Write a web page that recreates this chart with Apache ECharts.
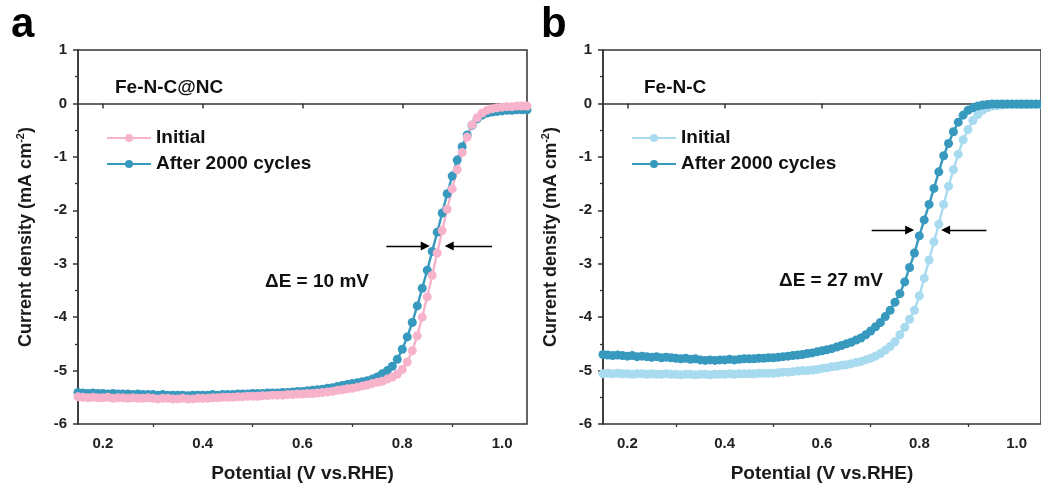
<!DOCTYPE html>
<html>
<head>
<meta charset="utf-8">
<script src="https://cdn.jsdelivr.net/npm/echarts@6/dist/echarts.min.js"></script>
<style>
html,body{margin:0;padding:0;background:#fff;}
#chart{width:1041px;height:488px;}
</style>
</head>
<body>
<div id="chart"></div>
<script>
// Potential (V vs. RHE), shared by all curves
const potential = [
0.15,0.16,0.17,0.18,0.19,0.20,0.21,0.22,0.23,0.24,
0.25,0.26,0.27,0.28,0.29,0.30,0.31,0.32,0.33,0.34,
0.35,0.36,0.37,0.38,0.39,0.40,0.41,0.42,0.43,0.44,
0.45,0.46,0.47,0.48,0.49,0.50,0.51,0.52,0.53,0.54,
0.55,0.56,0.57,0.58,0.59,0.60,0.61,0.62,0.63,0.64,
0.65,0.66,0.67,0.68,0.69,0.70,0.71,0.72,0.73,0.74,
0.75,0.76,0.77,0.78,0.79,0.80,0.81,0.82,0.83,0.84,
0.85,0.86,0.87,0.88,0.89,0.90,0.91,0.92,0.93,0.94,
0.95,0.96,0.97,0.98,0.99,1.00,1.01,1.02,1.03,1.04,
1.05];

// Panel a: Fe-N-C@NC
const aInitial = [
-5.49,-5.50,-5.51,-5.50,-5.51,-5.51,-5.50,-5.52,-5.51,-5.51,
-5.52,-5.51,-5.52,-5.52,-5.51,-5.52,-5.53,-5.52,-5.52,-5.53,
-5.53,-5.52,-5.53,-5.53,-5.52,-5.52,-5.52,-5.51,-5.51,-5.50,
-5.50,-5.50,-5.49,-5.49,-5.48,-5.48,-5.48,-5.47,-5.47,-5.46,
-5.46,-5.46,-5.45,-5.45,-5.44,-5.44,-5.43,-5.43,-5.42,-5.41,
-5.40,-5.39,-5.37,-5.36,-5.34,-5.33,-5.31,-5.29,-5.27,-5.24,
-5.22,-5.20,-5.16,-5.12,-5.07,-4.98,-4.84,-4.63,-4.35,-4.00,
-3.62,-3.22,-2.80,-2.38,-1.98,-1.60,-1.24,-0.92,-0.63,-0.40,
-0.27,-0.18,-0.13,-0.10,-0.08,-0.07,-0.06,-0.06,-0.05,-0.05,
-0.05];
const aAfter = [
-5.41,-5.42,-5.43,-5.42,-5.43,-5.43,-5.44,-5.43,-5.44,-5.44,
-5.44,-5.45,-5.44,-5.45,-5.45,-5.45,-5.46,-5.45,-5.46,-5.46,
-5.46,-5.46,-5.47,-5.46,-5.46,-5.46,-5.46,-5.45,-5.46,-5.45,
-5.45,-5.45,-5.44,-5.44,-5.44,-5.43,-5.43,-5.43,-5.42,-5.42,
-5.42,-5.41,-5.41,-5.40,-5.39,-5.39,-5.38,-5.37,-5.36,-5.35,
-5.33,-5.32,-5.30,-5.28,-5.26,-5.24,-5.23,-5.21,-5.19,-5.16,
-5.12,-5.06,-5.00,-4.92,-4.79,-4.60,-4.37,-4.10,-3.79,-3.46,
-3.12,-2.77,-2.41,-2.05,-1.69,-1.36,-1.06,-0.81,-0.59,-0.41,
-0.29,-0.22,-0.18,-0.16,-0.15,-0.14,-0.13,-0.13,-0.12,-0.12,
-0.12];

// Panel b: Fe-N-C
const bInitial = [
-5.06,-5.05,-5.06,-5.05,-5.06,-5.06,-5.07,-5.06,-5.06,-5.07,
-5.06,-5.07,-5.07,-5.06,-5.07,-5.07,-5.08,-5.07,-5.07,-5.08,
-5.07,-5.07,-5.08,-5.07,-5.07,-5.07,-5.06,-5.07,-5.06,-5.06,
-5.06,-5.06,-5.05,-5.05,-5.05,-5.05,-5.04,-5.03,-5.03,-5.02,
-5.01,-5.00,-5.00,-4.99,-4.98,-4.96,-4.95,-4.93,-4.92,-4.90,
-4.89,-4.87,-4.85,-4.83,-4.80,-4.77,-4.73,-4.68,-4.62,-4.55,
-4.46,-4.33,-4.19,-4.04,-3.87,-3.60,-3.27,-2.93,-2.59,-2.26,
-1.89,-1.55,-1.24,-0.95,-0.68,-0.49,-0.32,-0.21,-0.13,-0.08,
-0.05,-0.04,-0.03,-0.02,-0.02,-0.02,-0.02,-0.02,-0.02,-0.02,
-0.02];
const bAfter = [
-4.70,-4.71,-4.72,-4.71,-4.72,-4.73,-4.72,-4.74,-4.73,-4.74,
-4.75,-4.74,-4.76,-4.75,-4.76,-4.77,-4.78,-4.77,-4.79,-4.78,
-4.80,-4.81,-4.80,-4.81,-4.80,-4.80,-4.79,-4.80,-4.79,-4.78,
-4.78,-4.78,-4.77,-4.77,-4.76,-4.76,-4.75,-4.74,-4.73,-4.72,
-4.71,-4.70,-4.68,-4.67,-4.65,-4.63,-4.61,-4.59,-4.56,-4.53,
-4.50,-4.47,-4.43,-4.39,-4.33,-4.26,-4.18,-4.10,-3.99,-3.87,
-3.72,-3.56,-3.34,-3.07,-2.80,-2.48,-2.18,-1.89,-1.59,-1.28,
-0.98,-0.75,-0.53,-0.35,-0.22,-0.13,-0.08,-0.05,-0.03,-0.02,
-0.01,-0.01,-0.01,-0.01,-0.01,-0.01,-0.01,-0.01,-0.01,-0.01,
-0.01];

// Tick values
const xMajorTicks = [0.2, 0.4, 0.6, 0.8, 1.0];
const xMinorTicks = [0.3, 0.5, 0.7, 0.9];
const yTickLabels = ['-6','-5','-4','-3','-2','-1','0','1'];

// Arrow annotations (data units): [xStart, xEnd, y]
const arrowsA = [[0.768, 0.846, -2.67], [0.980, 0.894, -2.67]];
const arrowsB = [[0.702, 0.780, -2.37], [0.938, 0.854, -2.37]];

const FONT = '"Liberation Sans", Arial, Helvetica, sans-serif';
const AX = '#333';
const C_PINK = '#F7B3CB', C_TEAL = '#3799BE', C_LIGHT = '#A8DBEF';

const chart = echarts.init(document.getElementById('chart'), null, {renderer: 'canvas'});

function zip(ys) { return potential.map((x, i) => [x, ys[i]]); }

function xAxes(gi) {
  return [{
    type: 'value', gridIndex: gi, min: 0.15, max: 1.05, position: 'bottom',
    axisLine: {show: true, lineStyle: {color: AX, width: 1.5}},
    axisTick: {show: true, customValues: xMajorTicks, length: 5, lineStyle: {color: AX, width: 1.5}},
    axisLabel: {customValues: xMajorTicks, formatter: v => Number(v).toFixed(1), fontSize: 15, fontWeight: 'bold', color: '#222', margin: 12, fontFamily: FONT},
    splitLine: {show: false},
    name: 'Potential (V vs.RHE)', nameLocation: 'middle', nameGap: 40,
    nameTextStyle: {fontSize: 19, fontWeight: 'bold', color: '#1a1a1a', fontFamily: FONT}
  }, {
    type: 'value', gridIndex: gi, min: 0.15, max: 1.05, position: 'bottom',
    axisLine: {show: false},
    axisTick: {show: true, customValues: xMinorTicks, length: 3, lineStyle: {color: AX, width: 1.3}},
    axisLabel: {show: false},
    splitLine: {show: false}
  }];
}

function yAxis(gi) {
  return {
    type: 'value', gridIndex: gi, min: -6, max: 1, interval: 1,
    axisLine: {show: true, lineStyle: {color: AX, width: 1.5}},
    axisTick: {show: true, length: 5, lineStyle: {color: AX, width: 1.5}},
    minorTick: {show: true, splitNumber: 2, length: 3, lineStyle: {color: AX, width: 1.3}},
    axisLabel: {fontSize: 15, fontWeight: 'bold', color: '#222', margin: 11, fontFamily: FONT,
      formatter: v => yTickLabels[Math.round(v) + 6]},
    splitLine: {show: false}, minorSplitLine: {show: false},
    name: '{t|Current density (mA cm}{s|-2}{t|)}', nameLocation: 'middle', nameGap: 41,
    nameTextStyle: {
      fontFamily: FONT, color: '#1a1a1a',
      rich: {
        t: {fontSize: 18, fontWeight: 'bold', lineHeight: 22, color: '#1a1a1a', fontFamily: FONT},
        s: {fontSize: 11, fontWeight: 'bold', lineHeight: 11, verticalAlign: 'top', color: '#1a1a1a', fontFamily: FONT}
      }
    }
  };
}

function arrowLines(arrs) {
  return {
    silent: true, symbol: ['none', 'triangle'], symbolSize: 9, animation: false,
    lineStyle: {color: '#000', width: 1.3, type: 'solid'},
    itemStyle: {color: '#000'},
    label: {show: false},
    emphasis: {disabled: true},
    data: arrs.map(a => [{coord: [a[0], a[2]]}, {coord: [a[1], a[2]]}])
  };
}

function lineSeries(name, ys, color, xi, yi, extra) {
  return Object.assign({
    type: 'line', name: name, data: zip(ys), xAxisIndex: xi, yAxisIndex: yi,
    symbol: 'circle', symbolSize: 9, showSymbol: true, showAllSymbol: true,
    lineStyle: {color: color, width: 2.4}, itemStyle: {color: color},
    animation: false, silent: true
  }, extra || {});
}

const legendText = {fontSize: 19, fontWeight: 'bold', color: '#111', fontFamily: FONT, lineHeight: 20};

const option = {
  backgroundColor: '#fff',
  animation: false,
  grid: [
    {left: 78, top: 50, width: 449, height: 374, show: true, borderColor: AX, borderWidth: 1.5, backgroundColor: 'transparent'},
    {left: 603, top: 50, width: 450, height: 374, show: true, borderColor: AX, borderWidth: 1.5, backgroundColor: 'transparent'}
  ],
  xAxis: [].concat(xAxes(0), xAxes(1)),
  yAxis: [yAxis(0), yAxis(1)],
  legend: [
    {data: ['Initial', 'After 2000 cycles'], orient: 'vertical', left: 106, top: 128, padding: 0, itemWidth: 44, itemHeight: 10, itemGap: 6, textStyle: legendText, selectedMode: false},
    {data: ['Initial ', 'After 2000 cycles '], orient: 'vertical', left: 631, top: 128, padding: 0, itemWidth: 44, itemHeight: 10, itemGap: 6, textStyle: legendText, selectedMode: false}
  ],
  series: [
    lineSeries('After 2000 cycles', aAfter, C_TEAL, 0, 0),
    lineSeries('Initial', aInitial, C_PINK, 0, 0, {markLine: arrowLines(arrowsA)}),
    lineSeries('Initial ', bInitial, C_LIGHT, 2, 1),
    lineSeries('After 2000 cycles ', bAfter, C_TEAL, 2, 1, {markLine: arrowLines(arrowsB)})
  ],
  graphic: [
    {type: 'text', left: 11, top: 4, style: {text: 'a', font: 'bold 42px ' + FONT, fill: '#000'}},
    {type: 'text', left: 541, top: 4, style: {text: 'b', font: 'bold 42px ' + FONT, fill: '#000'}},
    {type: 'text', left: 115, top: 78, style: {text: 'Fe-N-C@NC', font: 'bold 19px ' + FONT, fill: '#111'}},
    {type: 'text', left: 644, top: 78, style: {text: 'Fe-N-C', font: 'bold 19px ' + FONT, fill: '#111'}},
    {type: 'text', left: 265, top: 272, style: {text: 'ΔE = 10 mV', font: 'bold 19px ' + FONT, fill: '#111'}},
    {type: 'text', left: 779, top: 271, style: {text: 'ΔE = 27 mV', font: 'bold 19px ' + FONT, fill: '#111'}}
  ]
};

chart.setOption(option);
</script>
</body>
</html>
